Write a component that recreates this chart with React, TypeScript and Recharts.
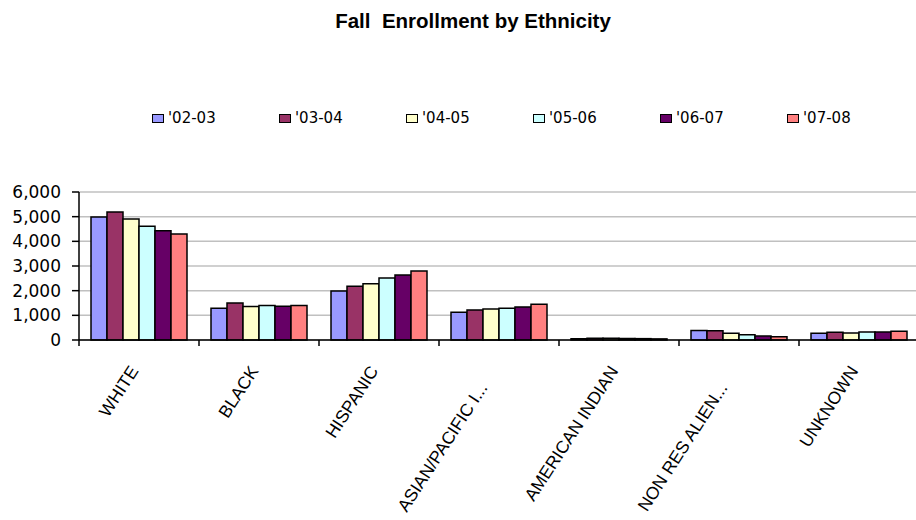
import React from "react";
import { BarChart, Bar, XAxis, YAxis, CartesianGrid } from "recharts";

const categories = [
  "WHITE",
  "BLACK",
  "HISPANIC",
  "ASIAN/PACIFIC I...",
  "AMERICAN INDIAN",
  "NON RES ALIEN...",
  "UNKNOWN",
];

const seriesNames = ["'02-03", "'03-04", "'04-05", "'05-06", "'06-07", "'07-08"];
const seriesColors = ["#9999FF", "#993366", "#FFFFCC", "#CCFFFF", "#660066", "#FF8080"];

const y0203 = [4990, 1290, 1990, 1120, 50, 390, 270];
const y0304 = [5190, 1500, 2180, 1220, 75, 370, 310];
const y0405 = [4905, 1355, 2280, 1260, 70, 270, 285];
const y0506 = [4610, 1400, 2510, 1290, 65, 210, 325];
const y0607 = [4430, 1370, 2640, 1340, 55, 160, 325];
const y0708 = [4300, 1400, 2800, 1450, 45, 130, 350];

const seriesValues = [y0203, y0304, y0405, y0506, y0607, y0708];
const yTicks = [0, 1000, 2000, 3000, 4000, 5000, 6000];

const data = categories.map((name, i) => {
  const row: Record<string, string | number> = { name };
  seriesNames.forEach((s, k) => {
    row[s] = seriesValues[k][i];
  });
  return row;
});

const FONT = "'Liberation Sans', Arial, sans-serif";
const WIDE = "'DejaVu Sans', Verdana, sans-serif";

const XTick = (props: any) => {
  const { x, y, payload, width } = props;
  const half =
    payload && typeof payload.offset === "number" && payload.offset > 0
      ? payload.offset
      : width / categories.length / 2;
  const label = String(payload.value);
  const truncated = label.endsWith("...");
  return (
    <g>
      <line x1={x - half} x2={x - half} y1={y} y2={y + 6} stroke="#000" strokeWidth={1.5} />
      <text
        transform={`translate(${x}, ${y + 31}) rotate(-57)`}
        textAnchor="end"
        dx={truncated ? -20 : 0}
        fontSize={17.5}
        fontFamily={FONT}
        fill="#000"
      >
        {label}
      </text>
    </g>
  );
};

export default function App() {
  return (
    <div
      style={{
        position: "absolute",
        left: 0,
        top: 0,
        width: 916,
        height: 520,
        overflow: "hidden",
        background: "#fff",
        fontFamily: FONT,
      }}
    >
      <div
        style={{
          position: "absolute",
          left: 0,
          width: 946,
          top: 9,
          textAlign: "center",
          fontWeight: "bold",
          fontSize: 20.5,
          whiteSpace: "pre",
          color: "#000",
          fontFamily: FONT,
        }}
      >
        {"Fall  Enrollment by Ethnicity"}
      </div>
      <div
        style={{
          position: "absolute",
          left: 152,
          top: 109,
          display: "flex",
          fontSize: 15,
          fontFamily: WIDE,
          color: "#000",
        }}
      >
        {seriesNames.map((s, k) => (
          <div key={s} style={{ width: 127, display: "flex", alignItems: "center" }}>
            <span
              style={{
                display: "inline-block",
                width: 10,
                height: 7,
                border: "1.5px solid #000",
                background: seriesColors[k],
                marginRight: 4,
              }}
            />
            <span>{s}</span>
          </div>
        ))}
      </div>
      <div style={{ position: "absolute", left: 0, top: 0 }}>
        <BarChart
          width={940}
          height={520}
          data={data}
          margin={{ top: 192, right: 21, bottom: 120, left: 0 }}
          barCategoryGap="10%"
          barGap={0}
        >
          <CartesianGrid vertical={false} stroke="#C0C0C0" strokeWidth={1.5} />
          <XAxis
            dataKey="name"
            height={60}
            interval={0}
            tickSize={0}
            tickMargin={0}
            tickLine={false}
            axisLine={{ stroke: "#000", strokeWidth: 1.5 }}
            tick={<XTick />}
          />
          <YAxis
            width={79}
            domain={[0, 6000]}
            ticks={yTicks}
            interval={0}
            tickSize={7}
            tickMargin={11}
            axisLine={{ stroke: "#000", strokeWidth: 1.5 }}
            tickLine={{ stroke: "#000", strokeWidth: 1.5 }}
            tick={{ fill: "#000", fontSize: 17, fontFamily: WIDE }}
            tickFormatter={(v: number) => v.toLocaleString("en-US")}
          />
          {seriesNames.map((s, k) => (
            <Bar
              key={s}
              dataKey={s}
              fill={seriesColors[k]}
              stroke="#000"
              strokeWidth={1.5}
              isAnimationActive={false}
            />
          ))}
        </BarChart>
      </div>
    </div>
  );
}
